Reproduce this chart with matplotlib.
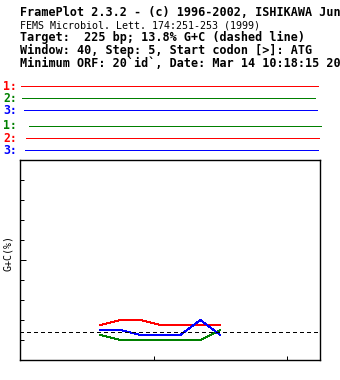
#!/usr/bin/env python3
"""
FramePlot style G+C chart for a short 225 bp target
"""

import matplotlib
matplotlib.use('Agg')
import matplotlib.pyplot as plt

# sequence / window info
seq_len = 225
target_gc = 13.8

# window centres (bp) and G+C % per codon position
window_center = [60, 75, 90, 105, 120, 135, 150]
gc_frame1 = [17.5, 20, 20, 17.5, 17.5, 17.5, 17.5]
gc_frame2 = [12.5, 10, 10, 10, 10, 10, 15]
gc_frame3 = [15, 15, 12.5, 12.5, 12.5, 20, 12.5]

# open reading frame bars (bp), forward strand then reverse strand
frame_labels = ['1:', '2:', '3:']
fwd_start = [0.5, 1.3, 2.8]
fwd_end = [223.3, 221, 222.5]
rev_start = [6.5, 4.3, 3.5]
rev_end = [225.5, 224, 223.3]

header = [
    ("FramePlot 2.3.2 - (c) 1996-2002, ISHIKAWA Jun", 'bold', 8.45),
    ("FEMS Microbiol. Lett. 174:251-253 (1999)", 'normal', 7.2),
    ("Target:  225 bp; 13.8% G+C (dashed line)", 'bold', 8.45),
    ("Window: 40, Step: 5, Start codon [>]: ATG", 'bold', 8.45),
    ("Minimum ORF: 20`id`, Date: Mar 14 10:18:15 202", 'bold', 8.45),
]

RED, GREEN, BLUE = '#ff0000', '#008000', '#0000ff'
fwd_colors = [RED, GREEN, BLUE]
rev_colors = [GREEN, RED, BLUE]

W, H = 340, 380
LW = 0.72  # one pixel
MONO = 'DejaVu Sans Mono'

fig = plt.figure(figsize=(W / 100, H / 100), dpi=100)
fig.patch.set_facecolor('white')

# header text
header_y = [13, 25, 37.7, 50.7, 63.3]
for (txt, weight, size), ypx in zip(header, header_y):
    fig.text(20 / W, 1 - ypx / H, txt, fontsize=size, fontweight=weight,
             family=MONO, va='center', ha='left', color='black')

# ORF bars
ax_orf = fig.add_axes([20.3 / W, 1 - 156 / H, 300 / W, 76 / H])
ax_orf.set_xlim(0, seq_len)
ax_orf.set_ylim(76, 0)
ax_orf.axis('off')

for strand, (starts, ends, cols) in enumerate([(fwd_start, fwd_end, fwd_colors),
                                               (rev_start, rev_end, rev_colors)]):
    for i in range(3):
        ypx = 86 + 40 * strand + 12 * i
        ax_orf.plot([starts[i], ends[i]], [ypx - 80, ypx - 80], color=cols[i],
                    lw=LW, solid_capstyle='butt', clip_on=False, antialiased=False)
        fig.text(3 / W, 1 - ypx / H, frame_labels[i], color=cols[i], fontsize=8.3,
                 fontweight='bold', family=MONO, va='center', ha='left')

# G+C plot
ax = fig.add_axes([20.3 / W, 20 / H, 300 / W, 200 / H])
ax.set_xlim(0, seq_len)
ax.set_ylim(0, 100)
for s in ax.spines.values():
    s.set_linewidth(1.0)
    s.set_color('black')

ax.plot(window_center, gc_frame1, color=RED, lw=LW, antialiased=False)
ax.plot(window_center, gc_frame2, color=GREEN, lw=LW, antialiased=False)
ax.plot(window_center, gc_frame3, color=BLUE, lw=LW, antialiased=False)
ax.axhline(target_gc, color='black', lw=LW, dashes=(4, 3), antialiased=False)

ax.set_xticks([100, 200])
ax.set_yticks([10, 20, 30, 40, 60, 70, 80, 90])
ax.set_yticks([50], minor=True)
ax.tick_params(axis='both', which='major', direction='in', length=2.9, width=LW,
               labelbottom=False, labelleft=False)
ax.tick_params(axis='y', which='minor', direction='in', length=4.3, width=LW,
               labelleft=False)
ax.tick_params(axis='x', which='minor', bottom=False)

fig.text(8 / W, 1 - 253 / H, 'G+C(%)', rotation=90, fontsize=7.2, family=MONO,
         va='center', ha='center')

fig.savefig('out.png', dpi=100, facecolor='white')
plt.close(fig)
